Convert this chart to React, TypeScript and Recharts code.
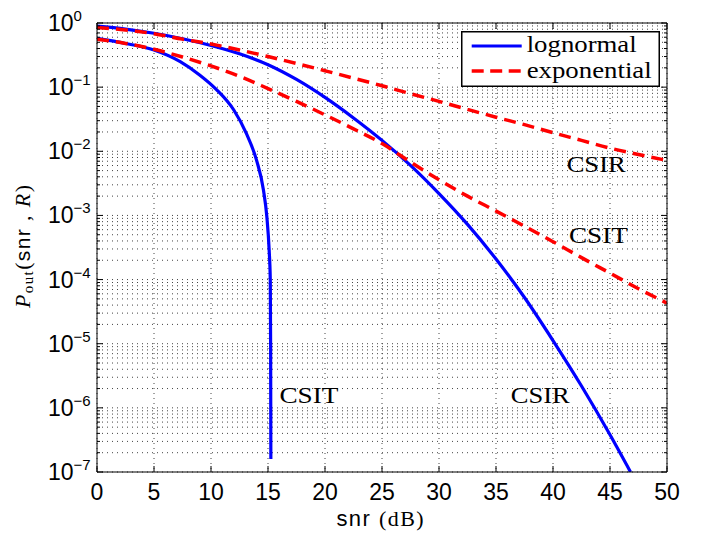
import React from 'react';
import {
  LineChart,
  Line,
  XAxis,
  YAxis,
  CartesianGrid,
  Legend,
  ReferenceDot,
} from 'recharts';

const SANS = "'Liberation Sans', Arial, sans-serif";
const SERIF = "'Liberation Serif', 'Times New Roman', serif";

// lognormal fading, receiver-side CSI
const lognormalCsirSnr = [0, 2.5, 5, 7.5, 10, 12.5, 15, 17.5, 20, 22.5, 25, 27.5, 30, 32.5, 35, 37.5, 40, 42.5, 45, 46.8];
const lognormalCsirP = [0.891, 0.804, 0.692, 0.569, 0.447, 0.331, 0.224, 0.132, 0.0692, 0.0331, 0.0148, 6.03e-3, 2.19e-3, 7.24e-4, 2.09e-4, 5.25e-5, 1.12e-5, 2.19e-6, 3.8e-7, 1.0e-7];

// lognormal fading, transmitter-side CSI
const lognormalCsitSnr = [0, 2.5, 5, 7.3, 9, 10.5, 12, 13.1, 14, 14.6, 14.9, 15.1, 15.2, 15.23, 15.25];
const lognormalCsitP = [0.575, 0.48, 0.38, 0.25, 0.155, 0.091, 0.044, 0.019, 7.2e-3, 2.5e-3, 9.5e-4, 2.9e-4, 1.0e-4, 1.0e-5, 1.6e-7];

// exponential fading
const expSnr = [0, 2.5, 5, 7.5, 10, 12.5, 15, 17.5, 20, 22.5, 25, 27.5, 30, 32.5, 35, 37.5, 40, 42.5, 45, 47.5, 50];
const expCsirP = [0.85, 0.78, 0.68, 0.56, 0.47, 0.38, 0.30, 0.234, 0.18, 0.138, 0.105, 0.079, 0.060, 0.045, 0.034, 0.026, 0.0195, 0.0148, 0.0112, 0.0089, 0.0072];
const expCsitP = [0.56, 0.48, 0.39, 0.295, 0.214, 0.148, 0.095, 0.060, 0.037, 0.0224, 0.0132, 0.0068, 0.0036, 0.0020, 0.00117, 6.8e-4, 3.9e-4, 2.2e-4, 1.26e-4, 7.2e-5, 4.3e-5];

const seriesNames = ['lognormal', 'exponential'];
const seriesColors = ['#0000ff', '#ff0000'];

const xTicks = [0, 5, 10, 15, 20, 25, 30, 35, 40, 45, 50];
const decades = [-7, -6, -5, -4, -3, -2, -1, 0];
const minorSteps = [2, 3, 4, 5, 6, 7, 8, 9];

// text annotations
const noteLabels = ['CSIR', 'CSIT', 'CSIT', 'CSIR'];
const noteSnr = [41.2, 41.4, 16.0, 36.3];
const noteP = [4.84e-3, 3.7e-4, 1.17e-6, 1.17e-6];

const toPoints = (xs: number[], ys: number[]) => xs.map((snr, i) => ({ snr, p: ys[i] }));

const yTicks: number[] = [];
decades.forEach(d => {
  yTicks.push(Math.pow(10, d));
  if (d < 0) minorSteps.forEach(m => yTicks.push(m * Math.pow(10, d)));
});
yTicks.sort((a, b) => a - b);

const isDecade = (v: number) => Math.abs(Math.log10(v) - Math.round(Math.log10(v))) < 1e-9;

const renderLeftTick = (p: any) => {
  const v = p.payload.value;
  const major = isDecade(v);
  const e = Math.round(Math.log10(v));
  return (
    <g>
      <line x1={p.x} x2={p.x + (major ? 6 : 3)} y1={p.y} y2={p.y} stroke="#000" />
      {major && (
        <text x={p.x - 49} y={p.y + 8} fontFamily={SANS} fontSize={23} fill="#000">
          10
          <tspan dy={-10} fontSize={15}>{e === 0 ? '0' : '\u2212' + -e}</tspan>
        </text>
      )}
    </g>
  );
};

const renderRightTick = (p: any) => {
  const major = isDecade(p.payload.value);
  return <line x1={p.x} x2={p.x - (major ? 6 : 3)} y1={p.y} y2={p.y} stroke="#000" />;
};

const renderBottomTick = (p: any) => (
  <g>
    <line x1={p.x} x2={p.x} y1={p.y} y2={p.y - 6} stroke="#000" />
    <text x={p.x} y={p.y + 28} textAnchor="middle" fontFamily={SANS} fontSize={23} fill="#000">
      {p.payload.value}
    </text>
  </g>
);

const renderTopTick = (p: any) => <line x1={p.x} x2={p.x} y1={p.y} y2={p.y + 6} stroke="#000" />;

const renderYLabel = (props: any) => {
  const vb = props.viewBox;
  const cx = 30;
  const cy = vb ? vb.y + vb.height / 2 - 1 : 246;
  return (
    <text
      transform={`rotate(-90 ${cx} ${cy})`}
      x={cx}
      y={cy}
      textAnchor="middle"
      fontFamily={SERIF}
      fontSize={22}
      fill="#000"
      textLength={123}
      lengthAdjust="spacing"
    >
      <tspan fontStyle="italic">P</tspan>
      <tspan fontSize={15} dy={3}>out</tspan>
      <tspan dy={-3}>(</tspan>
      <tspan fontFamily={SANS} fontSize={21}>snr</tspan>
      <tspan> , </tspan>
      <tspan fontStyle="italic">R</tspan>
      <tspan>)</tspan>
    </text>
  );
};

const renderXLabel = (props: any) => {
  const vb = props.viewBox;
  const cx = vb ? vb.x + vb.width / 2 - 2 : 380;
  const y = vb ? vb.y + 54 : 526;
  return (
    <text x={cx} y={y} textAnchor="middle" fill="#000" textLength={87} lengthAdjust="spacing">
      <tspan fontFamily={SANS} fontSize={22}>snr</tspan>
      <tspan fontFamily={SERIF} fontSize={22} dx={8}>(dB)</tspan>
    </text>
  );
};

const renderLegend = () => (
  <svg width={199} height={56} style={{ display: 'block' }}>
    <rect x={0.75} y={0.75} width={197.5} height={54.5} fill="#fff" stroke="#000" strokeWidth={1.5} />
    {seriesNames.map((name, i) => (
      <g key={name}>
        <line
          x1={10.7}
          x2={60.7}
          y1={15 + 25 * i}
          y2={15 + 25 * i}
          stroke={seriesColors[i]}
          strokeWidth={i === 0 ? 3.2 : 3.5}
          strokeDasharray={i === 0 ? undefined : '12 6.5'}
        />
        <text
          x={65.7}
          y={20.8 + 25.8 * i}
          fontFamily={SERIF}
          fontSize={23}
          fill="#000"
          textLength={i === 0 ? 110 : 125}
          lengthAdjust="spacingAndGlyphs"
        >
          {name}
        </text>
      </g>
    ))}
  </svg>
);

const renderNote = (label: string) => (p: any) => (
  <text x={p.cx} y={p.cy} fontFamily={SERIF} fontSize={24} fill="#000" textLength={59} lengthAdjust="spacingAndGlyphs">
    {label}
  </text>
);

export default function App() {
  const lognormalCsir = toPoints(lognormalCsirSnr, lognormalCsirP);
  const lognormalCsit = toPoints(lognormalCsitSnr, lognormalCsitP);
  const expCsir = toPoints(expSnr, expCsirP);
  const expCsit = toPoints(expSnr, expCsitP);

  return (
    <div style={{ position: 'absolute', left: 0, top: 0, width: 709, height: 533, background: '#fff' }}>
      <LineChart width={709} height={533} margin={{ top: 0, right: 0, bottom: 0, left: 0 }}>
        <CartesianGrid xAxisId="b" yAxisId="l" stroke="#444" strokeDasharray="1 4" />
        <XAxis
          xAxisId="b"
          type="number"
          dataKey="snr"
          domain={[0, 50]}
          ticks={xTicks}
          interval={0}
          allowDataOverflow
          height={61}
          tickSize={0}
          tickMargin={0}
          tickLine={false}
          axisLine={{ stroke: '#000' }}
          tick={renderBottomTick}
          label={renderXLabel}
        />
        <XAxis
          xAxisId="t"
          orientation="top"
          type="number"
          dataKey="snr"
          domain={[0, 50]}
          ticks={xTicks}
          interval={0}
          allowDataOverflow
          height={23}
          tickSize={0}
          tickMargin={0}
          tickLine={false}
          axisLine={{ stroke: '#000' }}
          tick={renderTopTick}
        />
        <YAxis
          yAxisId="l"
          type="number"
          scale="log"
          domain={[1e-7, 1]}
          ticks={yTicks}
          interval={0}
          allowDataOverflow
          width={97}
          tickSize={0}
          tickMargin={0}
          tickLine={false}
          axisLine={{ stroke: '#000' }}
          tick={renderLeftTick}
          label={renderYLabel}
        />
        <YAxis
          yAxisId="r"
          orientation="right"
          type="number"
          scale="log"
          domain={[1e-7, 1]}
          ticks={yTicks}
          interval={0}
          allowDataOverflow
          width={42}
          tickSize={0}
          tickMargin={0}
          tickLine={false}
          axisLine={{ stroke: '#000' }}
          tick={renderRightTick}
        />
        <Line
          xAxisId="b"
          yAxisId="l"
          data={lognormalCsir}
          dataKey="p"
          name={seriesNames[0]}
          type="monotone"
          stroke={seriesColors[0]}
          strokeWidth={3.2}
          dot={false}
          isAnimationActive={false}
        />
        <Line
          xAxisId="b"
          yAxisId="l"
          data={lognormalCsit}
          dataKey="p"
          name={seriesNames[0]}
          type="monotone"
          stroke={seriesColors[0]}
          strokeWidth={3.2}
          dot={false}
          isAnimationActive={false}
        />
        <Line
          xAxisId="b"
          yAxisId="l"
          data={expCsir}
          dataKey="p"
          name={seriesNames[1]}
          type="monotone"
          stroke={seriesColors[1]}
          strokeWidth={3.5}
          strokeDasharray="12 7"
          dot={false}
          isAnimationActive={false}
        />
        <Line
          xAxisId="b"
          yAxisId="l"
          data={expCsit}
          dataKey="p"
          name={seriesNames[1]}
          type="monotone"
          stroke={seriesColors[1]}
          strokeWidth={3.5}
          strokeDasharray="12 7"
          dot={false}
          isAnimationActive={false}
        />
        {noteLabels.map((label, i) => (
          <ReferenceDot
            key={i}
            xAxisId="b"
            yAxisId="l"
            x={noteSnr[i]}
            y={noteP[i]}
            r={0}
            shape={renderNote(label)}
          />
        ))}
        <Legend
          layout="vertical"
          align="center"
          verticalAlign="middle"
          wrapperStyle={{ left: 461, top: 31, width: 199, height: 56 }}
          content={renderLegend}
        />
      </LineChart>
    </div>
  );
}
